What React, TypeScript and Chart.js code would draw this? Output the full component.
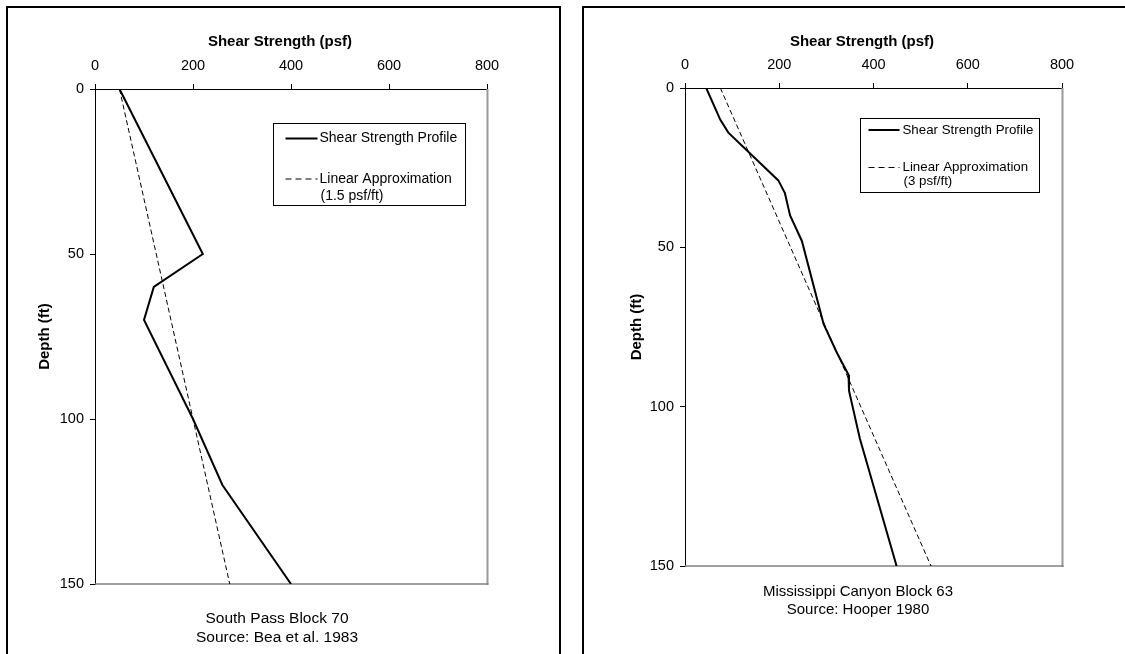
import React, { useEffect, useRef } from "react";
import { Chart, registerables } from "chart.js";

Chart.register(...registerables);

const FONT = "'Liberation Sans', Arial, Helvetica, sans-serif";

// ---- Data: South Pass Block 70 ----
const spDepth = [0, 50, 60, 70, 100, 120, 150];
const spStrength = [50, 220, 120, 100, 200, 260, 400];
const spApproxDepth = [0, 150];
const spApproxStrength = [50, 275];

// ---- Data: Mississippi Canyon Block 63 ----
const mcDepth = [0, 10, 14, 29, 33, 40, 48, 74, 83, 90, 95, 110, 150];
const mcStrength = [45, 75, 92, 198, 212, 223, 248, 294, 322, 347, 348, 371, 449];
const mcApproxDepth = [0, 150];
const mcApproxStrength = [75, 522];

// ---- Text ----
const seriesNames = ["Shear Strength Profile", "Linear Approximation"];
const spApproxNote = "(1.5 psf/ft)";
const mcApproxNote = "(3 psf/ft)";
const xTitle = "Shear Strength (psf)";
const yTitle = "Depth (ft)";
const spCaption = ["South Pass Block 70", "Source: Bea et al. 1983"];
const mcCaption = ["Mississippi Canyon Block 63", "Source: Hooper 1980"];

// ---- Axis ranges ----
const strengthMin = 0;
const strengthMax = 800;
const strengthStep = 200;
const depthMin = 0;
const depthMax = 150;
const depthStep = 50;

type LegendCfg = {
  x: number; y: number; w: number; h: number; size: number;
  rows: number[]; s0: number; s1: number; tx: number;
};
type PanelCfg = {
  left: number; width: number; height: number;
  plotLeft: number; plotTop: number; plotRight: number; plotBottom: number;
  titleDx: number; titleY: number; titleSize: number;
  yTitleX: number;
  captionDx: number; captionY: number[]; captionSize: number;
  legend: LegendCfg;
  depth: number[]; strength: number[];
  approxDepth: number[]; approxStrength: number[];
  note: string; caption: string[];
};

const leftPanel: PanelCfg = {
  left: 0, width: 560, height: 654,
  plotLeft: 95, plotTop: 89, plotRight: 487, plotBottom: 584,
  titleDx: -11, titleY: 42, titleSize: 15,
  yTitleX: 45,
  captionDx: -14, captionY: [619, 638], captionSize: 15.5,
  legend: { x: 273.5, y: 123.5, w: 192, h: 82, size: 14, rows: [15, 55.5, 73], s0: 12, s1: 44, tx: 46 },
  depth: spDepth, strength: spStrength,
  approxDepth: spApproxDepth, approxStrength: spApproxStrength,
  note: spApproxNote, caption: spCaption,
};

const rightPanel: PanelCfg = {
  left: 582, width: 543, height: 654,
  plotLeft: 103, plotTop: 88, plotRight: 480, plotBottom: 566,
  titleDx: -11.5, titleY: 42, titleSize: 15,
  yTitleX: 55,
  captionDx: -15.5, captionY: [592, 610], captionSize: 15,
  legend: { x: 278.5, y: 118.5, w: 179, h: 74, size: 13.3, rows: [11.5, 49, 63], s0: 8, s1: 39, tx: 42 },
  depth: mcDepth, strength: mcStrength,
  approxDepth: mcApproxDepth, approxStrength: mcApproxStrength,
  note: mcApproxNote, caption: mcCaption,
};

function makeDecor(cfg: PanelCfg) {
  return {
    id: "decor",
    beforeDatasetsDraw(chart: any) {
      const { ctx, chartArea: a } = chart;
      ctx.save();
      ctx.strokeStyle = "#9a9a9a";
      ctx.lineWidth = 2;
      ctx.beginPath();
      ctx.moveTo(a.right + 0.5, a.top);
      ctx.lineTo(a.right + 0.5, a.bottom + 1);
      ctx.stroke();
      ctx.strokeStyle = "#808080";
      ctx.lineWidth = 1.5;
      ctx.beginPath();
      ctx.moveTo(a.left, a.bottom);
      ctx.lineTo(a.right + 1.5, a.bottom);
      ctx.stroke();
      ctx.restore();
    },
    afterDraw(chart: any) {
      const { ctx, chartArea: a } = chart;
      const cx = (a.left + a.right) / 2;
      const cy = (a.top + a.bottom) / 2;
      ctx.save();
      ctx.fillStyle = "#000";
      ctx.textBaseline = "middle";
      ctx.textAlign = "center";
      // x title
      ctx.font = `bold ${cfg.titleSize}px ${FONT}`;
      ctx.fillText(xTitle, cx + cfg.titleDx, cfg.titleY);
      // y title
      ctx.save();
      ctx.translate(cfg.yTitleX, cy);
      ctx.rotate(-Math.PI / 2);
      ctx.fillText(yTitle, 0, 0);
      ctx.restore();
      // captions
      ctx.font = `${cfg.captionSize}px ${FONT}`;
      cfg.caption.forEach((line, i) => {
        ctx.fillText(line, cx + cfg.captionDx, cfg.captionY[i]);
      });
      // legend
      const L = cfg.legend;
      ctx.fillStyle = "#fff";
      ctx.fillRect(L.x, L.y, L.w, L.h);
      ctx.strokeStyle = "#000";
      ctx.lineWidth = 1;
      ctx.strokeRect(L.x, L.y, L.w, L.h);
      ctx.lineWidth = 2;
      ctx.beginPath();
      ctx.moveTo(L.x + L.s0, L.y + L.rows[0]);
      ctx.lineTo(L.x + L.s1, L.y + L.rows[0]);
      ctx.stroke();
      ctx.lineWidth = 1;
      ctx.setLineDash([6, 4]);
      ctx.beginPath();
      ctx.moveTo(L.x + L.s0, L.y + L.rows[1]);
      ctx.lineTo(L.x + L.s1, L.y + L.rows[1]);
      ctx.stroke();
      ctx.setLineDash([]);
      ctx.fillStyle = "#000";
      ctx.textAlign = "left";
      ctx.font = `${L.size}px ${FONT}`;
      ctx.fillText(seriesNames[0], L.x + L.tx, L.y + L.rows[0]);
      ctx.fillText(seriesNames[1], L.x + L.tx, L.y + L.rows[1]);
      ctx.fillText(cfg.note, L.x + L.tx + 1, L.y + L.rows[2]);
      ctx.restore();
    },
  };
}

function Panel({ cfg }: { cfg: PanelCfg }) {
  const ref = useRef<HTMLCanvasElement>(null);
  useEffect(() => {
    const canvas = ref.current!;
    const tickFont = { family: FONT, size: 14.5 };
    const chart = new Chart(canvas, {
      type: "scatter",
      data: {
        datasets: [
          {
            label: seriesNames[0],
            data: cfg.depth.map((d, i) => ({ x: cfg.strength[i], y: d })),
            borderColor: "#000",
            backgroundColor: "#000",
            borderWidth: 2,
            pointRadius: 0,
            showLine: true,
            fill: false,
          },
          {
            label: seriesNames[1],
            data: cfg.approxDepth.map((d, i) => ({ x: cfg.approxStrength[i], y: d })),
            borderColor: "#000",
            backgroundColor: "#000",
            borderWidth: 1,
            borderDash: [5, 3],
            pointRadius: 0,
            showLine: true,
            fill: false,
          },
        ],
      },
      options: {
        responsive: false,
        animation: false,
        devicePixelRatio: 1,
        events: [],
        layout: {
          padding: {
            left: 0,
            top: 0,
            right: cfg.width - cfg.plotRight,
            bottom: cfg.height - cfg.plotBottom,
          },
        },
        plugins: {
          legend: { display: false },
          tooltip: { enabled: false },
          title: { display: false },
        },
        scales: {
          x: {
            type: "linear",
            position: "top",
            min: strengthMin,
            max: strengthMax,
            afterFit: (s: any) => { s.height = cfg.plotTop; },
            ticks: { stepSize: strengthStep, color: "#000", font: tickFont, padding: 9, maxRotation: 0 },
            grid: { display: true, drawOnChartArea: false, drawTicks: true, tickLength: 5, color: "#000", lineWidth: 1 },
            border: { display: true, color: "#000", width: 1 },
          },
          y: {
            type: "linear",
            reverse: true,
            min: depthMin,
            max: depthMax,
            afterFit: (s: any) => { s.width = cfg.plotLeft; },
            ticks: { stepSize: depthStep, color: "#000", font: tickFont, padding: 6 },
            grid: { display: true, drawOnChartArea: false, drawTicks: true, tickLength: 5, color: "#000", lineWidth: 1 },
            border: { display: true, color: "#000", width: 1 },
          },
        },
      } as any,
      plugins: [makeDecor(cfg)],
    });
    return () => chart.destroy();
  }, [cfg]);
  return (
    <canvas
      ref={ref}
      width={cfg.width}
      height={cfg.height}
      style={{ position: "absolute", left: cfg.left, top: 0, width: cfg.width, height: cfg.height }}
    />
  );
}

export default function App() {
  return (
    <div style={{ position: "fixed", inset: 0, overflow: "hidden", background: "#fff" }}>
      <div style={{ position: "absolute", left: 6, top: 6, width: 555, height: 700, border: "2px solid #000", boxSizing: "border-box" }} />
      <div style={{ position: "absolute", left: 582, top: 6, width: 600, height: 700, border: "2px solid #000", boxSizing: "border-box" }} />
      <Panel cfg={leftPanel} />
      <Panel cfg={rightPanel} />
    </div>
  );
}
